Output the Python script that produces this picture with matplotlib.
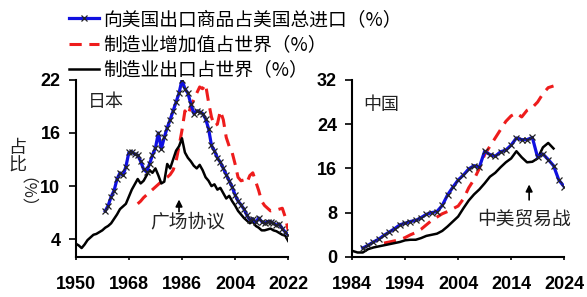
import numpy as np
import matplotlib
matplotlib.use("Agg")
import matplotlib.pyplot as plt
from matplotlib.lines import Line2D

plt.rcParams['font.family'] = ['Noto Sans CJK SC', 'DejaVu Sans']

# 日本
jp_black_years = list(range(1950, 2023))
jp_black = [3.5, 3.3, 3.0, 3.4, 3.9, 4.2, 4.5, 4.6, 4.8, 5.0,
            5.3, 5.5, 5.8, 6.3, 6.8, 7.4, 7.7, 8.0, 8.8, 9.6,
            10.2, 10.8, 10.3, 10.6, 11.2, 11.8, 11.5, 12.0, 11.2, 10.3,
            10.5, 12.5, 12.0, 13.0, 14.0, 14.5, 15.4, 13.8, 13.2, 12.8,
            12.3, 12.0, 12.4, 11.8, 11.0, 10.6, 10.0, 10.2, 9.6, 9.8,
            9.2, 8.6, 8.9, 8.3, 7.8, 7.2, 6.8, 6.4, 6.1, 5.8,
            6.0, 5.5, 5.3, 5.0, 5.0, 5.1, 5.2, 5.0, 4.9, 4.7,
            4.5, 4.4, 3.8]
jp_blue_years = list(range(1960, 2023))
jp_blue = [7.2, 7.8, 8.8, 9.5, 10.8, 11.5, 11.2, 12.2, 13.8, 13.9,
           13.6, 13.5, 12.8, 11.9, 11.6, 12.5, 13.5, 14.3, 16.0, 14.2,
           15.5, 16.6, 17.5, 18.5, 19.5, 20.5, 22.0, 21.0, 20.5, 19.3,
           18.2, 18.5, 18.4, 18.2, 17.6, 16.5, 14.6, 14.0, 13.2, 12.7,
           12.0, 11.3, 10.6, 9.9, 9.0, 8.3, 7.9, 7.4, 6.7, 6.2,
           6.3, 5.9, 6.4, 6.0, 5.8, 6.0, 6.0, 5.8, 5.6, 5.7,
           5.2, 4.8, 4.5]
jp_red_years = list(range(1971, 2023))
jp_red = [8.0, 8.3, 8.7, 9.0, 9.3, 9.6, 9.9, 10.2, 10.5,
          10.8, 11.0, 11.3, 11.8, 12.8, 14.5, 16.3, 18.5, 18.0, 19.0,
          19.8, 20.5, 21.2, 21.0, 21.5, 19.5, 17.8, 16.8, 17.0, 18.5,
          17.5, 15.5, 14.5, 13.8, 12.5, 11.0, 10.6, 10.7, 10.4, 11.2,
          11.5, 10.5, 9.5, 8.3, 7.8, 7.5, 7.2, 7.3, 7.3, 7.4,
          7.5, 6.5, 5.0]

# 中国
cn_black_years = list(range(1984, 2023))
cn_black = [1.1, 0.8, 0.8, 1.4, 1.7, 1.9, 2.1, 2.3, 2.5, 2.7,
            3.0, 3.1, 3.1, 3.4, 3.8, 4.0, 4.2, 4.7, 5.5, 6.4,
            7.3, 8.8, 10.2, 11.3, 12.2, 13.3, 14.5, 15.2, 16.2, 17.1,
            17.8, 19.1, 18.0, 17.1, 17.2, 17.8, 19.8, 20.6, 19.6]
cn_blue_years = list(range(1986, 2025))
cn_blue = [1.6, 2.1, 2.7, 3.2, 3.9, 4.5, 5.1, 5.8, 6.1, 6.4,
           6.6, 7.1, 7.7, 8.0, 8.2, 9.3, 11.2, 12.6, 13.9, 14.8,
           15.9, 16.5, 16.2, 19.1, 18.5, 18.2, 19.0, 19.3, 20.2, 21.5,
           21.2, 21.2, 21.6, 18.0, 18.6, 17.6, 16.5, 13.9, 12.7]
cn_red_years = list(range(1990, 2023))
cn_red = [2.5, 2.7, 2.9, 3.1, 3.5, 4.0, 4.4, 5.0, 5.8, 6.6,
          7.2, 7.8, 8.2, 8.7, 9.2, 10.5, 12.5, 14.0, 16.0, 18.5,
          20.0, 21.5, 23.0, 24.5, 25.5, 26.0, 25.3, 26.5, 27.0, 28.0,
          29.5, 30.6, 30.9]

labels = ['向美国出口商品占美国总进口（%）', '制造业增加值占世界（%）', '制造业出口占世界（%）']

fig = plt.figure(figsize=(5.87, 2.97), dpi=100)
ax1 = fig.add_axes([0.129, 0.135, 0.362, 0.596])
ax2 = fig.add_axes([0.600, 0.135, 0.361, 0.596])


def draw(ax, blue_x, blue_y, red_x, red_y, black_x, black_y):
    ax.plot(red_x, red_y, color='#ee1c1c', linewidth=2.2, dashes=(4, 2.5))
    ax.plot(black_x, black_y, color='black', linewidth=1.8)
    ax.plot(blue_x, blue_y, color='#1010e0', linewidth=2.3,
            marker='x', markersize=5, markeredgecolor='#222222', markeredgewidth=0.9)
    for s in ['top', 'right']:
        ax.spines[s].set_visible(False)
    for s in ['left', 'bottom']:
        ax.spines[s].set_linewidth(1.5)
    ax.tick_params(axis='y', direction='out', length=5, width=1.2, pad=6)
    ax.tick_params(axis='x', direction='out', length=2, width=1.2, pad=12)
    for lab in ax.get_xticklabels() + ax.get_yticklabels():
        lab.set_fontfamily('Liberation Sans')
        lab.set_fontweight('bold')
        lab.set_fontsize(13)


# 日本
ax1.set_xlim(1950, 2022)
ax1.set_ylim(2, 22)
ax1.set_xticks([1950, 1968, 1986, 2004, 2022])
ax1.set_yticks([4, 10, 16, 22])
draw(ax1, jp_blue_years, jp_blue, jp_red_years, jp_red, jp_black_years, jp_black)
ax1.text(1954, 18.9, '日本', fontsize=13, color='#222222')
ax1.annotate('', xy=(1985, 8.8), xytext=(1985, 6.8),
             arrowprops=dict(arrowstyle='-|>', color='black', lw=1.2, mutation_scale=10))
ax1.text(1988, 5.9, '广场协议', fontsize=13.5, ha='center', va='center', color='#222222')

# 中国
ax2.set_xlim(1984, 2024)
ax2.set_ylim(0, 32)
ax2.set_xticks([1984, 1994, 2004, 2014, 2024])
ax2.set_yticks([0, 8, 16, 24, 32])
draw(ax2, cn_blue_years, cn_blue, cn_red_years, cn_red, cn_black_years, cn_black)
ax2.text(1986, 26.6, '中国', fontsize=13, color='#222222')
ax2.annotate('', xy=(2017.4, 13.6), xytext=(2017.4, 9.8),
             arrowprops=dict(arrowstyle='-|>', color='black', lw=1.2, mutation_scale=10))
ax2.text(2016.5, 6.7, '中美贸易战', fontsize=13.5, ha='center', va='center', color='#222222')

# 纵轴标题
fig.text(0.030, 1 - 148 / 297, '占', fontsize=13, ha='center', va='center', rotation=0, color='#222222')
fig.text(0.030, 1 - 166 / 297, '比', fontsize=13, ha='center', va='center', rotation=0, color='#222222')
fig.text(0.030, 1 - 201 / 297, '（%）', fontsize=12, ha='center', va='center', rotation=-90, color='#222222')

# 图例
handles = [Line2D([], [], color='#1010e0', linewidth=2.3, marker='x', markersize=5,
                  markeredgecolor='#222222', markeredgewidth=0.9, markevery=[1]),
           Line2D([], [], color='#ee1c1c', linewidth=2.2, dashes=(4, 2.5)),
           Line2D([], [], color='black', linewidth=1.8)]
fig.legend(handles, labels, loc='upper left', bbox_to_anchor=(0.105, 0.995), frameon=False,
           fontsize=13.5, handlelength=1.6, handletextpad=0.2, labelspacing=0.22,
           borderaxespad=0)

fig.savefig('out.png', dpi=100)
